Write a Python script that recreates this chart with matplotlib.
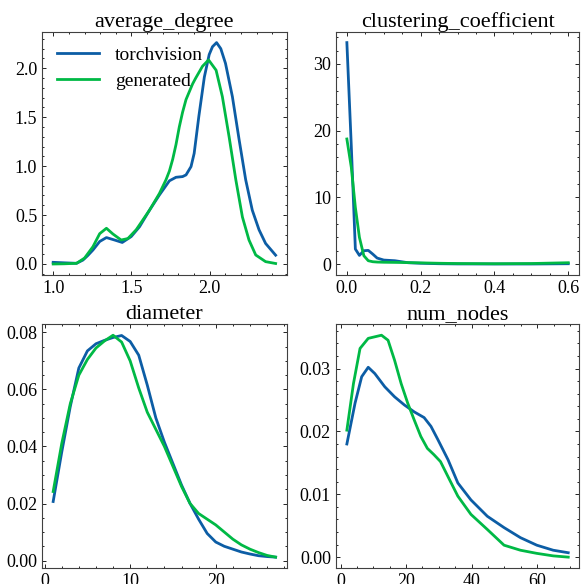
"""KDE comparison of graph statistics: torchvision vs generated."""

import matplotlib

matplotlib.use("Agg")
import matplotlib.pyplot as plt
from matplotlib.ticker import AutoMinorLocator

BLUE = "#0C5DA5"
GREEN = "#00B945"

# average_degree
avg_deg_torch_x = [1.0, 1.07, 1.149, 1.19, 1.22, 1.254, 1.297, 1.34, 1.392, 1.441, 1.498,
                   1.551, 1.615, 1.678, 1.742, 1.784, 1.826, 1.848, 1.88, 1.90, 1.93, 1.965,
                   1.996, 2.017, 2.043, 2.07, 2.10, 2.144, 2.187, 2.229, 2.271, 2.314,
                   2.356, 2.42]
avg_deg_torch = [0.017, 0.012, 0.007, 0.04, 0.085, 0.143, 0.23, 0.27, 0.245, 0.22, 0.28,
                 0.38, 0.55, 0.705, 0.85, 0.886, 0.893, 0.91, 0.995, 1.13, 1.51, 1.91,
                 2.14, 2.22, 2.262, 2.2, 2.05, 1.71, 1.27, 0.86, 0.55, 0.35, 0.21, 0.09]
avg_deg_gen_x = [1.0, 1.07, 1.149, 1.2, 1.254, 1.297, 1.34, 1.381, 1.434, 1.477, 1.53,
                 1.615, 1.678, 1.72, 1.742, 1.763, 1.784, 1.805, 1.826, 1.848, 1.869, 1.89,
                 1.91, 1.953, 1.992, 2.04, 2.08, 2.123, 2.166, 2.208, 2.25, 2.293, 2.356,
                 2.42]
avg_deg_gen = [0.0, 0.002, 0.007, 0.06, 0.177, 0.31, 0.365, 0.307, 0.245, 0.26, 0.35,
               0.55, 0.72, 0.86, 0.95, 1.07, 1.22, 1.40, 1.55, 1.68, 1.76, 1.84, 1.90,
               2.02, 2.085, 1.98, 1.71, 1.30, 0.86, 0.48, 0.245, 0.092, 0.024, 0.005]

# clustering_coefficient
clust_x = [0.0, 0.012, 0.023, 0.034, 0.046, 0.058, 0.07, 0.082, 0.1, 0.13, 0.166, 0.2,
           0.25, 0.3, 0.4, 0.5, 0.6]
clust_torch = [33.2, 17.7, 2.25, 1.3, 2.0, 2.05, 1.5, 0.9, 0.6, 0.5, 0.2, 0.12, 0.05,
               0.02, 0.01, 0.01, 0.05]
clust_gen = [18.75, 14.5, 8.5, 4.0, 1.25, 0.5, 0.35, 0.3, 0.27, 0.25, 0.22, 0.18, 0.12,
             0.08, 0.05, 0.08, 0.2]

# diameter
diam_x = [1, 2, 3, 4, 5, 6, 7, 8, 9, 10, 11, 12, 13, 14, 15, 16, 17, 18, 19, 20, 21,
          22, 23, 24, 25, 26, 27]
diam_torch = [0.0207, 0.038, 0.054, 0.0675, 0.0735, 0.076, 0.0772, 0.0782, 0.0789,
              0.0768, 0.072, 0.0615, 0.050, 0.0415, 0.034, 0.0265, 0.020, 0.0145, 0.0095,
              0.0065, 0.005, 0.004, 0.003, 0.0023, 0.0017, 0.0014, 0.0012]
diam_gen = [0.0242, 0.041, 0.055, 0.065, 0.0705, 0.0745, 0.077, 0.079, 0.0766, 0.070,
            0.0605, 0.052, 0.046, 0.040, 0.033, 0.026, 0.020, 0.0165, 0.0145, 0.0125,
            0.010, 0.0075, 0.0055, 0.0040, 0.0028, 0.0018, 0.0012]

# num_nodes
nodes_torch_x = [1.93, 4.43, 6.45, 8.45, 10.46, 13.5, 16.5, 19.5, 22.5, 25.5, 27.6, 29.7,
                 32.8, 35.8, 39.8, 44.8, 49.9, 54.9, 59.9, 64.9, 69.5]
nodes_torch = [0.018, 0.0245, 0.0287, 0.0302, 0.0292, 0.0271, 0.0255, 0.0242, 0.0231,
               0.0222, 0.0208, 0.0187, 0.0155, 0.0118, 0.0091, 0.0065, 0.0047, 0.0031,
               0.0019, 0.0011, 0.0007]
nodes_gen_x = [1.93, 3.94, 5.95, 8.45, 12.5, 14.5, 16.5, 18.5, 20.5, 22.5, 24.5, 26.5,
               28.5, 30.5, 32.8, 35.8, 39.8, 44.8, 49.9, 54.9, 59.9, 64.9, 69.5]
nodes_gen = [0.0202, 0.0276, 0.0332, 0.0348, 0.0353, 0.0345, 0.0313, 0.0276, 0.0245,
             0.0218, 0.0192, 0.0173, 0.0163, 0.0152, 0.0128, 0.0097, 0.0068, 0.0044,
             0.0019, 0.0011, 0.0006, 0.0002, 0.0]

PANELS = [
    ("average_degree", avg_deg_torch_x, avg_deg_torch, avg_deg_gen_x, avg_deg_gen),
    ("clustering_coefficient", clust_x, clust_torch, clust_x, clust_gen),
    ("diameter", diam_x, diam_torch, diam_x, diam_gen),
    ("num_nodes", nodes_torch_x, nodes_torch, nodes_gen_x, nodes_gen),
]

plt.rcParams.update({
    "font.family": ["Liberation Serif", "DejaVu Serif"],
    "font.size": 13,
    "xtick.direction": "in",
    "ytick.direction": "in",
    "xtick.top": True,
    "ytick.right": True,
    "xtick.major.size": 3,
    "ytick.major.size": 3,
    "xtick.minor.size": 1.5,
    "ytick.minor.size": 1.5,
    "xtick.major.width": 0.6,
    "ytick.major.width": 0.6,
    "xtick.minor.width": 0.6,
    "ytick.minor.width": 0.6,
    "xtick.minor.visible": True,
    "ytick.minor.visible": True,
    "axes.linewidth": 0.8,
    "axes.edgecolor": "0.25",
})

fig = plt.figure(figsize=(5.84, 5.84), dpi=100)
positions = [
    [0.072, 0.529, 0.419, 0.417],
    [0.575, 0.529, 0.417, 0.417],
    [0.072, 0.027, 0.419, 0.418],
    [0.575, 0.027, 0.417, 0.418],
]

for pos, (title, xt, torch, xg, gen) in zip(positions, PANELS):
    ax = fig.add_axes(pos)
    ax.plot(xt, torch, color=BLUE, linewidth=2.0, label="torchvision")
    ax.plot(xg, gen, color=GREEN, linewidth=2.0, label="generated")
    ax.set_title(title, fontsize=16, pad=3)
    ax.xaxis.set_minor_locator(AutoMinorLocator())
    ax.yaxis.set_minor_locator(AutoMinorLocator())
    ax.tick_params(labelsize=13)
    if title == "average_degree":
        ax.legend(loc="upper left", frameon=False, fontsize=14, handlelength=2.2,
                  borderaxespad=0.35, labelspacing=0.45)

fig.savefig("out.png", dpi=100)
